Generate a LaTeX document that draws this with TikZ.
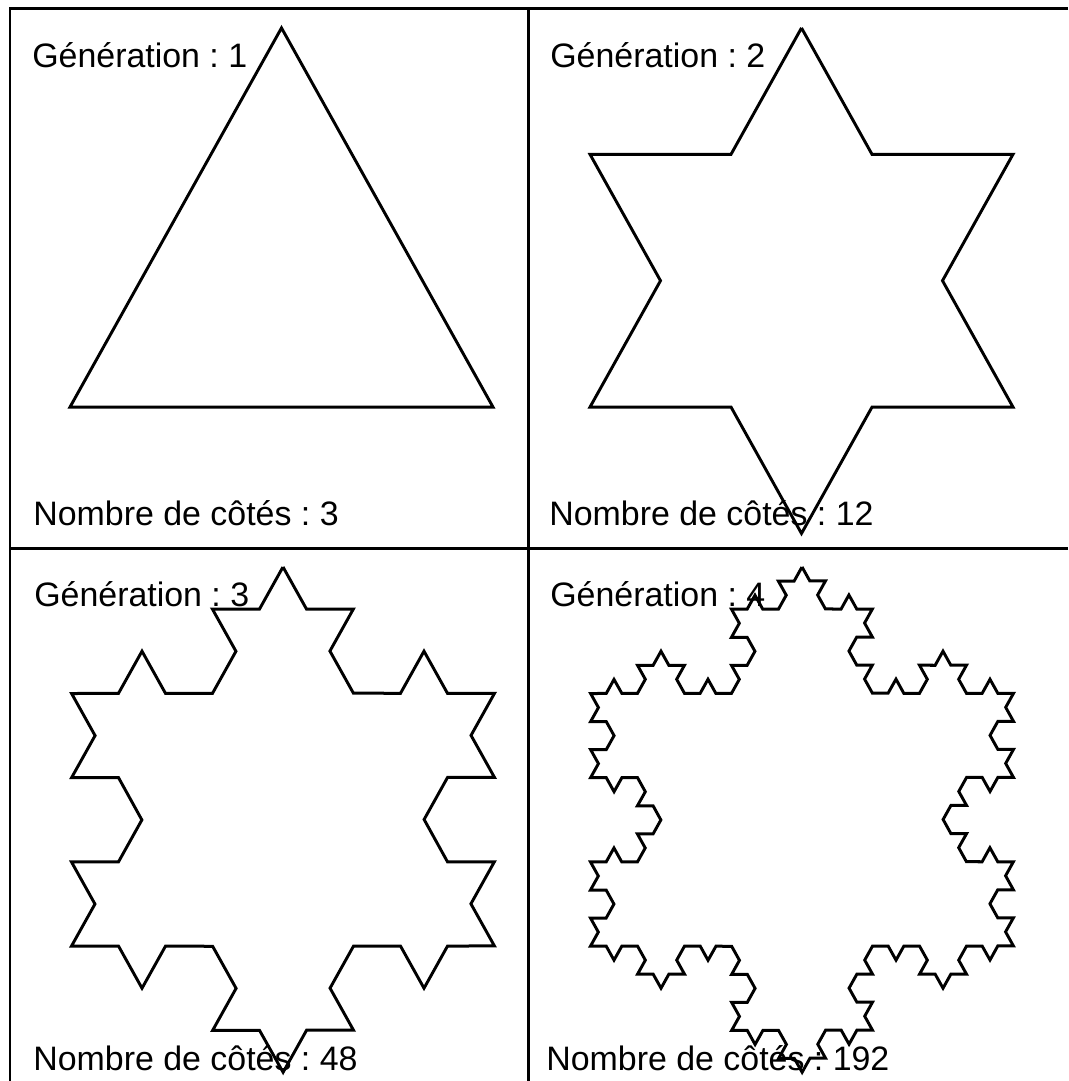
\documentclass[tikz,border=0pt]{standalone}
\usepackage{fontspec}
\setmainfont{Liberation Sans}
\usepackage{tikz}
\usetikzlibrary{decorations.fractals}
\definecolor{InkBlack}{HTML}{000000}
\frenchspacing
\tikzset{
  % Frame lines
  FL/.style={draw=InkBlack,line width=0.06cm},
  % Snowflake outline
  KS/.style={draw=InkBlack,line width=0.058cm,line join=miter,decoration=Koch snowflake},
  % Panel label
  LB/.style={anchor=base west,inner sep=0pt,text=InkBlack,
             font=\fontsize{19.3pt}{23pt}\selectfont}
}

\begin{document}
\begin{tikzpicture}[x=0.02cm,y=-0.02cm]
  \useasboundingbox (0,0) rectangle (1068,1081);

  % frame
  \draw[FL] (10,1081) -- (10,9) -- (1068,9);
  \draw[FL] (528,9) -- (528,1081);
  \draw[FL] (10,548) -- (1068,548);

  % generation 1
  \begin{scope}[transform canvas={shift={(281.5,280.7)},yscale=1.035}]
    \draw[KS] (0,-244.2) -- (211.5,122.1) -- (-211.5,122.1) -- cycle;
  \end{scope}
  % generation 2
  \begin{scope}[transform canvas={shift={(801.5,280.7)},yscale=1.035}]
    \draw[KS] decorate{ (0,-244.2) -- (211.5,122.1) -- (-211.5,122.1) -- cycle };
  \end{scope}
  % generation 3
  \begin{scope}[transform canvas={shift={(283,819.7)},yscale=1.035}]
    \draw[KS] decorate{ decorate{ (0,-244.2) -- (211.5,122.1) -- (-211.5,122.1) -- cycle }};
  \end{scope}
  % generation 4
  \begin{scope}[transform canvas={shift={(802,819.7)},yscale=1.035}]
    \draw[KS] decorate{ decorate{ decorate{ (0,-244.2) -- (211.5,122.1) -- (-211.5,122.1) -- cycle }}};
  \end{scope}

  % labels
  \node[LB] (gen1)  at (32,68)    {Génération : 1};
  \node[LB] (side1) at (33,525)   {Nombre de côtés : 3};
  \node[LB] (gen2)  at (550,68)   {Génération : 2};
  \node[LB] (side2) at (549,525)  {Nombre de côtés : 12};
  \node[LB] (gen3)  at (34,606)   {Génération : 3};
  \node[LB] (side3) at (33,1070)  {Nombre de côtés : 48};
  \node[LB] (gen4)  at (550,606)  {Génération : 4};
  \node[LB] (side4) at (546,1070) {Nombre de côtés : 192};
\end{tikzpicture}
\end{document}
